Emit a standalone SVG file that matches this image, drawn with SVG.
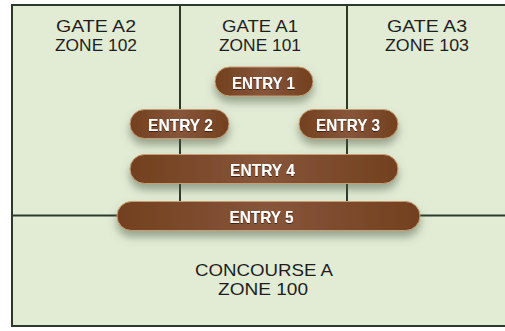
<svg xmlns="http://www.w3.org/2000/svg" width="505" height="331" viewBox="0 0 505 331">
<defs>
<linearGradient id="pillGrad" x1="0" y1="0" x2="1" y2="0">
<stop offset="0" stop-color="#72401f"/>
<stop offset="0.5" stop-color="#87553a"/>
<stop offset="1" stop-color="#72401f"/>
</linearGradient>
<filter id="shadow" x="-20%" y="-50%" width="140%" height="220%">
<feDropShadow dx="0" dy="6" stdDeviation="4" flood-color="#4a5a40" flood-opacity="0.5"/>
</filter>
<filter id="tshadow" x="-10%" y="-30%" width="120%" height="160%">
<feDropShadow dx="0" dy="1" stdDeviation="0.6" flood-color="#2a1408" flood-opacity="0.8"/>
</filter>
</defs>
<style>
.zone{font-family:"Liberation Sans",Arial,sans-serif;font-size:17px;fill:#1e1e1e;text-anchor:middle}
.pill{fill:url(#pillGrad);stroke:#c79d74;stroke-width:1;filter:url(#shadow)}
.ptxt{font-family:"Liberation Sans",Arial,sans-serif;font-weight:bold;font-size:17px;fill:#ffffff;text-anchor:middle;filter:url(#tshadow)}
.line{stroke:#2c3a2c;stroke-width:2;fill:none}
</style>
<rect x="0" y="0" width="505" height="331" fill="#ffffff"/>
<rect x="12" y="5" width="493" height="321" fill="#e2ecd5"/>
<g id="connectors">
<line class="line" x1="12" y1="5" x2="505" y2="5"/>
<line class="line" x1="12" y1="4" x2="12" y2="327"/>
<line class="line" x1="11" y1="326" x2="505" y2="326"/>
<line class="line" x1="180" y1="5" x2="180" y2="215"/>
<line class="line" x1="347" y1="5" x2="347" y2="215"/>
<line class="line" x1="12" y1="215.5" x2="505" y2="215.5"/>
</g>
<g id="zone102"><text class="zone" x="96" y="32" textLength="80" lengthAdjust="spacingAndGlyphs">GATE A2</text><text class="zone" x="96" y="51" textLength="82" lengthAdjust="spacingAndGlyphs">ZONE 102</text></g>
<g id="zone101"><text class="zone" x="260" y="32" textLength="76" lengthAdjust="spacingAndGlyphs">GATE A1</text><text class="zone" x="260" y="51" textLength="82" lengthAdjust="spacingAndGlyphs">ZONE 101</text></g>
<g id="zone103"><text class="zone" x="427" y="32" textLength="80" lengthAdjust="spacingAndGlyphs">GATE A3</text><text class="zone" x="427" y="51" textLength="84" lengthAdjust="spacingAndGlyphs">ZONE 103</text></g>
<g id="zone100"><text class="zone" x="264" y="276" textLength="138" lengthAdjust="spacingAndGlyphs">CONCOURSE A</text><text class="zone" x="263" y="295" textLength="90" lengthAdjust="spacingAndGlyphs">ZONE 100</text></g>
<g id="entry1"><rect class="pill" x="215" y="67" width="98" height="29" rx="14.5"/><text class="ptxt" x="263.5" y="88.5" textLength="63" lengthAdjust="spacingAndGlyphs">ENTRY 1</text></g>
<g id="entry2"><rect class="pill" x="130" y="109.5" width="99" height="29" rx="14.5"/><text class="ptxt" x="180.5" y="130.5" textLength="65" lengthAdjust="spacingAndGlyphs">ENTRY 2</text></g>
<g id="entry3"><rect class="pill" x="299" y="109.5" width="99" height="29" rx="14.5"/><text class="ptxt" x="348" y="130.5" textLength="64" lengthAdjust="spacingAndGlyphs">ENTRY 3</text></g>
<g id="entry4"><rect class="pill" x="130" y="154.5" width="268" height="29" rx="14.5"/><text class="ptxt" x="262.5" y="176" textLength="65" lengthAdjust="spacingAndGlyphs">ENTRY 4</text></g>
<g id="entry5"><rect class="pill" x="117" y="201.5" width="303" height="29" rx="14.5"/><text class="ptxt" x="261.5" y="222.5" textLength="64" lengthAdjust="spacingAndGlyphs">ENTRY 5</text></g>
</svg>
